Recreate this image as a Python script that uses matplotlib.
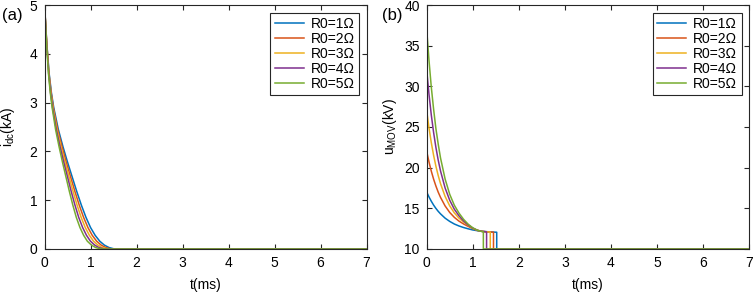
import matplotlib
matplotlib.use("Agg")
import matplotlib.pyplot as plt

plt.rcParams['font.family'] = ['Liberation Sans', 'DejaVu Sans']
plt.rcParams['mathtext.fontset'] = 'custom'
plt.rcParams['mathtext.rm'] = 'Liberation Sans'
plt.rcParams['mathtext.it'] = 'Liberation Sans'

labels = ["R0=1Ω", "R0=2Ω", "R0=3Ω", "R0=4Ω", "R0=5Ω"]
colors = ["#0072BD", "#D95319", "#EDB120", "#7E2F8E", "#77AC30"]

# (a) dc current, same levels for every R0, times read per curve
i_dc = [5, 4.2, 3.6, 3.2, 2.9, 2.45, 2.1, 1.78, 1.48, 1.18, 0.9, 0.65, 0.44, 0.28, 0.16, 0.08, 0.03, 0, 0]
t_i_r1 = [0, 0.05, 0.1, 0.15, 0.2, 0.3, 0.4, 0.5, 0.6, 0.7, 0.8, 0.9, 1.0, 1.1, 1.2, 1.3, 1.4, 1.52, 7]
t_i_r2 = [0, 0.05, 0.096, 0.144, 0.191, 0.285, 0.379, 0.472, 0.566, 0.66, 0.754, 0.848, 0.943, 1.037, 1.132, 1.23, 1.33, 1.45, 7]
t_i_r3 = [0, 0.048, 0.093, 0.138, 0.183, 0.27, 0.357, 0.445, 0.532, 0.62, 0.707, 0.795, 0.885, 0.975, 1.065, 1.16, 1.25, 1.38, 7]
t_i_r4 = [0, 0.046, 0.089, 0.131, 0.174, 0.255, 0.336, 0.418, 0.499, 0.58, 0.661, 0.742, 0.828, 0.912, 0.998, 1.09, 1.18, 1.30, 7]
t_i_r5 = [0, 0.045, 0.085, 0.125, 0.165, 0.24, 0.315, 0.39, 0.465, 0.54, 0.615, 0.69, 0.77, 0.85, 0.93, 1.02, 1.11, 1.23, 7]

# (b) MOV voltage
t_u = [0, 0.05, 0.1, 0.15, 0.2, 0.25, 0.3, 0.4, 0.5, 0.6, 0.7, 0.8, 0.9, 1.0, 1.1]
t_u_r1 = t_u + [1.2, 1.3, 1.4, 1.52, 1.52, 7]
u_r1 = [17, 16.4, 15.87, 15.4, 14.99, 14.63, 14.32, 13.79, 13.39, 13.07, 12.83, 12.64, 12.48, 12.34, 12.25,
        12.18, 12.13, 12.09, 12.06, 10, 10]
t_u_r2 = t_u + [1.2, 1.3, 1.45, 1.45, 7]
u_r2 = [22, 20.7, 19.57, 18.59, 17.74, 16.99, 16.35, 15.29, 14.49, 13.89, 13.43, 13.08, 12.78, 12.5, 12.28,
        12.17, 12.11, 12.07, 10, 10]
t_u_r3 = t_u + [1.2, 1.3, 1.38, 1.38, 7]
u_r3 = [27, 24.89, 23.08, 21.52, 20.18, 19.03, 18.04, 16.46, 15.3, 14.44, 13.8, 13.33, 12.92, 12.55, 12.3,
        12.17, 12.11, 12.08, 10, 10]
t_u_r4 = t_u + [1.2, 1.3, 1.3, 7]
u_r4 = [32, 29.02, 26.48, 24.33, 22.49, 20.93, 19.6, 17.5, 15.99, 14.89, 14.09, 13.45, 12.95, 12.58, 12.3,
        12.16, 12.1, 10, 10]
t_u_r5 = t_u + [1.23, 1.23, 7]
u_r5 = [37, 33.2, 29.9, 27.2, 24.8, 22.9, 21.2, 18.6, 16.72, 15.38, 14.42, 13.65, 13.05, 12.6, 12.3,
        12.1, 10, 10]

t_i_all = [t_i_r1, t_i_r2, t_i_r3, t_i_r4, t_i_r5]
t_u_all = [t_u_r1, t_u_r2, t_u_r3, t_u_r4, t_u_r5]
u_all = [u_r1, u_r2, u_r3, u_r4, u_r5]

fig = plt.figure(figsize=(7.56, 2.95), dpi=100)
ax1 = fig.add_axes([0.0589, 0.156, 0.426, 0.827])
ax2 = fig.add_axes([0.5644, 0.156, 0.4266, 0.827])

for k in range(5):
    ax1.plot(t_i_all[k], i_dc, color=colors[k], lw=1.1, label=labels[k])
    ax2.plot(t_u_all[k], u_all[k], color=colors[k], lw=1.1, label=labels[k])

ax1.set_xlim(0, 7)
ax1.set_ylim(0, 5)
ax2.set_xlim(0, 7)
ax2.set_ylim(10, 40)
ax1.set_yticks(range(0, 6))
ax2.set_yticks(range(10, 41, 5))

ax1.set_ylabel(r"$\mathregular{i_{dc}}$(kA)", fontsize=10, labelpad=9)
ax2.set_ylabel(r"$\mathregular{u_{MOV}}$(kV)", fontsize=10, labelpad=4)

for ax in (ax1, ax2):
    ax.set_xticks(range(0, 8))
    ax.set_xlabel("t(ms)", fontsize=10, labelpad=6)
    ax.tick_params(direction="in", top=True, right=True, length=3.5, width=0.8,
                   labelsize=10, colors="#262626", labelcolor="black", pad=5)
    for s in ax.spines.values():
        s.set_color("#262626")
        s.set_linewidth(0.8)
    leg = ax.legend(loc="upper right", fontsize=10, handlelength=2.1, handletextpad=0.5,
                    labelspacing=0.08, borderaxespad=0.55, borderpad=0.3, fancybox=False,
                    framealpha=1.0)
    leg.get_frame().set_edgecolor("#262626")
    leg.get_frame().set_linewidth(0.8)

fig.text(0.002, 0.946, "(a)", fontsize=12, va="center")
fig.text(0.505, 0.946, "(b)", fontsize=12, va="center")

fig.savefig("out.png", dpi=100)
